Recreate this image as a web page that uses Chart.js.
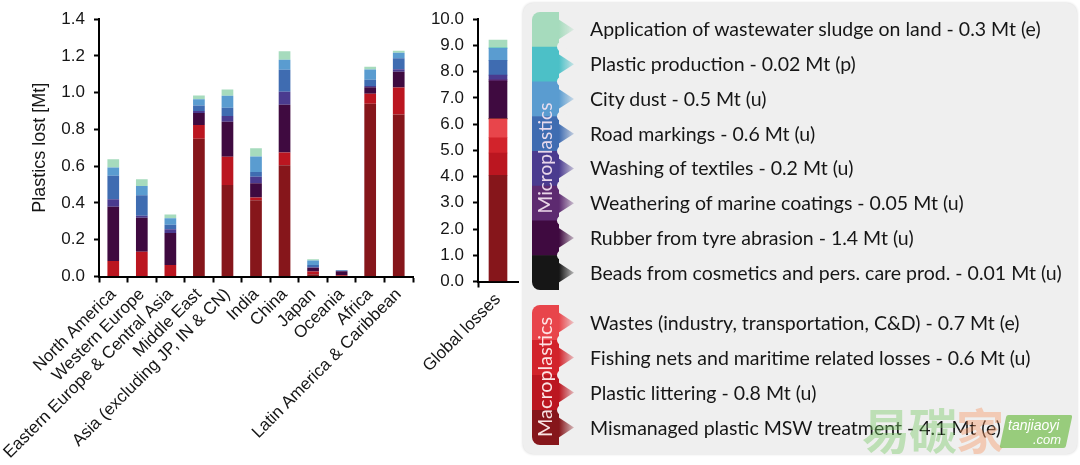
<!DOCTYPE html>
<html><head><meta charset="utf-8">
<script src="https://cdn.jsdelivr.net/npm/chart.js@4.4.1/dist/chart.umd.min.js"></script>
<style>
html,body{margin:0;padding:0;background:#fff;width:1080px;height:465px;overflow:hidden;font-family:'Liberation Sans',Arial,sans-serif}
canvas{position:absolute;top:0}
#c1{left:0}
#c2{left:400px}
#panel{position:absolute;left:523px;top:3px;width:554px;height:451px;background:#efefef;border-radius:10px;box-shadow:0 0 3px rgba(0,0,0,0.18)}
#leg{left:0;pointer-events:none}
.lbl{position:absolute;left:590px;white-space:nowrap;font-family:Lato,'Open Sans',sans-serif;color:#161616;line-height:1;transform:translateY(-52%)}
.vlab{position:absolute;white-space:nowrap;font-family:Lato,'Open Sans',sans-serif;line-height:1;transform:translate(-50%,-50%) rotate(-90deg)}
.wm{position:absolute;white-space:nowrap;line-height:1}
</style>
</head><body>
<div id="panel"></div>
<canvas id="c1" width="420" height="465"></canvas>
<canvas id="c2" width="125" height="465"></canvas>
<canvas id="leg" width="1080" height="465"></canvas>
<script>
// ---------- data: regional losses [Mt] ----------
const regions = ['North America','Western Europe','Eastern Europe & Central Asia','Middle East','Asia (excluding JP, IN & CN)','India','China','Japan','Oceania','Africa','Latin America & Caribbean'];
const mswRegional       = [0,     0,     0,     0.75,  0.498, 0.415, 0.605, 0.012, 0.004, 0.94,  0.882];
const litteringRegional = [0.085, 0.134, 0.062, 0.075, 0.154, 0.015, 0.07,  0.015, 0.004, 0.055, 0.147];
const tyreRegional      = [0.294, 0.186, 0.175, 0.065, 0.19,  0.077, 0.26,  0.02,  0.02,  0.035, 0.085];
const textilesRegional  = [0.042, 0.01,  0.02,  0.01,  0.031, 0.036, 0.07,  0.004, 0.002, 0.006, 0.013];
const roadRegional      = [0.127, 0.112, 0.025, 0.03,  0.045, 0.025, 0.12,  0.012, 0.002, 0.035, 0.06];
const dustRegional      = [0.045, 0.051, 0.035, 0.035, 0.065, 0.085, 0.055, 0.024, 0.003, 0.055, 0.03];
const sludgeRegional    = [0.045, 0.036, 0.02,  0.02,  0.034, 0.045, 0.045, 0.007, 0.001, 0.015, 0.011];
const yTicksRegional = [0, 0.2, 0.4, 0.6, 0.8, 1.0, 1.2, 1.4];

// ---------- data: global losses [Mt] ----------
const globalLabels = ['Global losses'];
const mswGlobal = [4.05];
const litteringGlobal = [0.85];
const fishingGlobal = [0.58];
const wastesGlobal = [0.72];
const beadsGlobal = [0.01];
const tyreGlobal = [1.43];
const marineGlobal = [0.05];
const textilesGlobal = [0.18];
const roadGlobal = [0.56];
const dustGlobal = [0.46];
const productionGlobal = [0.02];
const sludgeGlobal = [0.29];
const yTicksGlobal = [0,1,2,3,4,5,6,7,8,9,10];

// ---------- legend texts ----------
const microLegend = [
 'Application of wastewater sludge on land - 0.3 Mt (e)',
 'Plastic production - 0.02 Mt (p)',
 'City dust - 0.5 Mt (u)',
 'Road markings - 0.6 Mt (u)',
 'Washing of textiles - 0.2 Mt (u)',
 'Weathering of marine coatings - 0.05 Mt (u)',
 'Rubber from tyre abrasion - 1.4 Mt (u)',
 'Beads from cosmetics and pers. care prod. - 0.01 Mt (u)'
];
const macroLegend = [
 'Wastes (industry, transportation, C&D) - 0.7 Mt (e)',
 'Fishing nets and maritime related losses - 0.6 Mt (u)',
 'Plastic littering - 0.8 Mt (u)',
 'Mismanaged plastic MSW treatment - 4.1 Mt (e)'
];
const microTitle = 'Microplastics';
const macroTitle = 'Macroplastics';

// ---------- styles ----------
const C = {
  sludge:'#a6dbbd', production:'#4cc0c7', dust:'#5a9cd0', road:'#3f6cb1',
  textiles:'#4a3b8f', marine:'#5d2a70', tyre:'#3f0a40', beads:'#161616',
  wastes:'#e8454b', fishing:'#d2232b', littering:'#bb1620', msw:'#86161b'
};
const microColors = [C.sludge, C.production, C.dust, C.road, C.textiles, C.marine, C.tyre, C.beads];
const macroColors = [C.wastes, C.fishing, C.littering, C.msw];

const FONT = "'Liberation Sans', Arial, sans-serif";
Chart.defaults.font.family = FONT;
Chart.defaults.color = '#161616';

function ds(label, data, color){ return {label, data, backgroundColor: color, borderWidth: 0}; }

function axisY(min, max, step, width, title){
  const y = {
    stacked: true, min, max,
    ticks: {stepSize: step, padding: 9, font:{size:17}, color:'#161616', callback: v => Number(v).toFixed(1)},
    grid: {drawOnChartArea:false, drawTicks:true, tickLength:5, tickWidth:2, tickColor:'#000'},
    border: {display:true, color:'#000', width:2},
    afterFit: s => { s.width = width; }
  };
  if (title) y.title = {display:true, text:title, font:{size:18}, color:'#161616', padding:{top:29, bottom:0}};
  return y;
}
function axisX(height, tickColorFn){
  return {
    stacked: true,
    ticks: {minRotation:45, maxRotation:45, autoSkip:false, padding:2, font:{size:17}, color:'#161616'},
    grid: {offset:true, drawOnChartArea:false, drawTicks:true, tickLength:6, tickWidth:2, tickColor: tickColorFn || '#000'},
    border: {display:true, color:'#000', width:2},
    afterFit: s => { s.height = height; s.paddingLeft = 0; s.paddingRight = 0; }
  };
}

new Chart(document.getElementById('c1'), {
  type: 'bar',
  data: {
    labels: regions,
    datasets: [
      ds('Mismanaged plastic MSW treatment', mswRegional, C.msw),
      ds('Plastic littering', litteringRegional, C.littering),
      ds('Rubber from tyre abrasion', tyreRegional, C.tyre),
      ds('Washing of textiles', textilesRegional, C.textiles),
      ds('Road markings', roadRegional, C.road),
      ds('City dust', dustRegional, C.dust),
      ds('Application of wastewater sludge on land', sludgeRegional, C.sludge)
    ]
  },
  options: {
    responsive:false, animation:false, devicePixelRatio:1,
    layout: {padding:{top:19, right:7, left:0, bottom:0}},
    datasets: {bar:{barPercentage:0.41, categoryPercentage:1}},
    plugins: {legend:{display:false}, tooltip:{enabled:false}},
    scales: { x: axisX(465-276.5), y: axisY(0, 1.4, 0.2, 99, 'Plastics lost [Mt]') }
  }
});

new Chart(document.getElementById('c2'), {
  type: 'bar',
  data: {
    labels: globalLabels,
    datasets: [
      ds('Mismanaged plastic MSW treatment', mswGlobal, C.msw),
      ds('Plastic littering', litteringGlobal, C.littering),
      ds('Fishing nets and maritime related losses', fishingGlobal, C.fishing),
      ds('Wastes (industry, transportation, C&D)', wastesGlobal, C.wastes),
      ds('Beads from cosmetics and pers. care prod.', beadsGlobal, C.beads),
      ds('Rubber from tyre abrasion', tyreGlobal, C.tyre),
      ds('Weathering of marine coatings', marineGlobal, C.marine),
      ds('Washing of textiles', textilesGlobal, C.textiles),
      ds('Road markings', roadGlobal, C.road),
      ds('City dust', dustGlobal, C.dust),
      ds('Plastic production', productionGlobal, C.production),
      ds('Application of wastewater sludge on land', sludgeGlobal, C.sludge)
    ]
  },
  options: {
    responsive:false, animation:false, devicePixelRatio:1,
    layout: {padding:{top:18.5, right:7, left:0, bottom:0}},
    datasets: {bar:{barThickness:18}},
    plugins: {legend:{display:false}, tooltip:{enabled:false}},
    scales: { x: axisX(465-281.5, c => c.index === 0 ? '#000' : 'rgba(0,0,0,0)'), y: axisY(0, 10, 1, 78) }
  }
});

// ---------- legend panel ----------
const LFONT = "Lato, 'Open Sans', sans-serif";
const mctx = document.getElementById('leg').getContext('2d');
mctx.font = '100px ' + LFONT;
const fitSize = 100 * 452 / mctx.measureText(microLegend[0]).width;

function addRow(text, y){
  const d = document.createElement('div');
  d.className = 'lbl'; d.textContent = text;
  d.style.top = y + 'px'; d.style.fontSize = fitSize.toFixed(2) + 'px';
  document.body.appendChild(d);
}
function addVLabel(text, x, y, len, color){
  mctx.font = '100px ' + LFONT;
  const s = 100 * len / mctx.measureText(text).width;
  const d = document.createElement('div');
  d.className = 'vlab'; d.textContent = text;
  d.style.left = x + 'px'; d.style.top = y + 'px'; d.style.fontSize = s.toFixed(2) + 'px'; d.style.color = color;
  document.body.appendChild(d);
}
function withAlpha(hex, a){
  const n = parseInt(hex.slice(1), 16);
  return `rgba(${n>>16},${(n>>8)&255},${n&255},${a})`;
}
function drawColorbar(colors, top, segH){
  const x0 = 532, w = 27, tip = 15, n = colors.length, H = n * segH;
  const ctx = mctx;
  ctx.save();
  ctx.beginPath(); ctx.roundRect(x0, top, w + tip, H, 8); ctx.clip();
  colors.forEach((c, i) => {
    const y = top + i * segH;
    ctx.fillStyle = c; ctx.fillRect(x0, y, w, segH + 0.6);
    const g = ctx.createLinearGradient(x0 + w, 0, x0 + w + tip, 0);
    g.addColorStop(0, c); g.addColorStop(1, withAlpha(c, 0.25));
    ctx.fillStyle = g;
    ctx.beginPath();
    ctx.moveTo(x0 + w - 1, y + segH * 0.2);
    ctx.lineTo(x0 + w + tip, y + segH * 0.5);
    ctx.lineTo(x0 + w - 1, y + segH * 0.8);
    ctx.closePath(); ctx.fill();
  });
  ctx.fillStyle = '#efefef';
  for (let i = 1; i < n; i++){
    ctx.beginPath(); ctx.arc(x0 + w + 3, top + i * segH, 5, 0, Math.PI * 2); ctx.fill();
  }
  ctx.restore();
}
const microTop = 12, microSeg = 34.75, macroTop = 305, macroSeg = 35;
drawColorbar(microColors, microTop, microSeg);
drawColorbar(macroColors, macroTop, macroSeg);
microLegend.forEach((t, i) => addRow(t, microTop + microSeg * (i + 0.5)));
macroLegend.forEach((t, i) => addRow(t, macroTop + macroSeg * (i + 0.5)));
addVLabel(microTitle, 545, 158, 111, 'rgba(245,228,242,0.92)');
addVLabel(macroTitle, 545, 377, 120, 'rgba(255,238,238,0.95)');

// ---------- watermark ----------
(function(){
  const chars = [['易','rgba(120,200,100,0.42)'],['碳','rgba(120,200,100,0.42)'],['家','rgba(245,150,100,0.42)']];
  chars.forEach((c, i) => {
    const d = document.createElement('div');
    d.className = 'wm'; d.textContent = c[0];
    d.style.cssText += `left:${862 + i*47}px;top:404px;font-size:48px;font-weight:bold;font-family:'Noto Sans CJK SC';color:${c[1]}`;
    document.body.appendChild(d);
  });
  const b = document.createElement('div');
  b.className = 'wm';
  b.style.cssText += 'left:1003px;top:415px;width:66px;height:33px;background:rgba(130,195,95,0.8);transform:skewX(-12deg);border-radius:2px';
  document.body.appendChild(b);
  const t1 = document.createElement('div'); t1.className='wm'; t1.textContent='tanjiaoyi';
  t1.style.cssText += "left:1008px;top:418px;font-size:14px;font-style:italic;color:#fff;font-family:'Liberation Sans'";
  document.body.appendChild(t1);
  const t2 = document.createElement('div'); t2.className='wm'; t2.textContent='.com';
  t2.style.cssText += "left:1033px;top:433px;font-size:13px;font-style:italic;color:#fff;font-family:'Liberation Sans'";
  document.body.appendChild(t2);
})();
</script>
</body></html>
